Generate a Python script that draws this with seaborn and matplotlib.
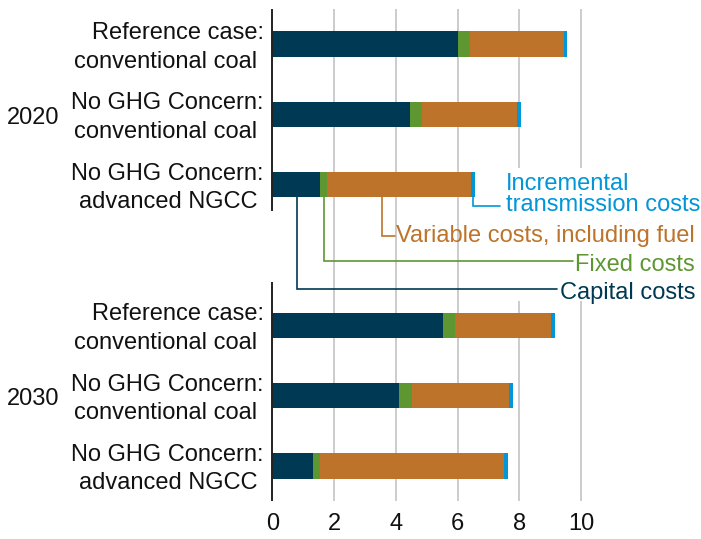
import numpy as np
import pandas as pd
import matplotlib
matplotlib.use("Agg")
import matplotlib.pyplot as plt
import seaborn as sns
from matplotlib.transforms import blended_transform_factory, ScaledTranslation
from matplotlib.patches import Rectangle

# data (levelized cost components)
years = ['2020', '2030']
cases = ['Reference case:\nconventional coal ',
         'No GHG Concern:\nconventional coal ',
         'No GHG Concern:\nadvanced NGCC ']
capital = [6.00, 4.45, 1.54, 5.52, 4.10, 1.31]
fixed = [0.39, 0.39, 0.24, 0.39, 0.42, 0.22]
variable = [3.05, 3.09, 4.65, 3.11, 3.14, 5.97]
transmission = [0.10, 0.12, 0.13, 0.13, 0.13, 0.13]
x_ticks = [0, 2, 4, 6, 8, 10]

c_cap = '#003953'
c_fix = '#5E9732'
c_var = '#BD732A'
c_tra = '#0096D7'

df = pd.DataFrame({'year': np.repeat(years, 3), 'case': cases * 2,
                   'capital': capital, 'fixed': fixed,
                   'variable': variable, 'transmission': transmission})
idx = np.arange(len(df))
df['pos'] = idx + (idx >= 3)  # leave an empty slot between the two years
df['cum_fix'] = df['capital'] + df['fixed']
df['cum_var'] = df['cum_fix'] + df['variable']
df['total'] = df['cum_var'] + df['transmission']

sns.set_style('white')
plt.rcParams['font.family'] = ['Liberation Sans', 'DejaVu Sans']
fs = 17

fig = plt.figure(figsize=(7.01, 5.39), dpi=100)
ax = fig.add_axes([272.3 / 701, 38 / 539, 422.7 / 701, 492 / 539])

# stacked bars by over-plotting cumulative totals
for col, color in [('total', c_tra), ('cum_var', c_var),
                   ('cum_fix', c_fix), ('capital', c_cap)]:
    sns.barplot(data=df, x=col, y='pos', orient='h', native_scale=True,
                color=color, saturation=1, width=0.36, errorbar=None,
                linewidth=0, zorder=2, ax=ax)

ax.set_xlim(0, 13.68)
ax.set_ylim(6.5, -0.5)
ax.set_xlabel('')
ax.set_ylabel('')
for s in ax.spines.values():
    s.set_visible(False)

# grid
ax.set_xticks(x_ticks)
ax.xaxis.grid(True, color='#BFBFBF', lw=1.1, zorder=0)
ax.set_axisbelow(True)
ax.get_xgridlines()[0].set_visible(False)
ax.tick_params(axis='x', length=0, pad=9, labelsize=fs, labelcolor='#111111')

# category labels
ax.set_yticks(df['pos'], labels=df['case'])
ax.tick_params(axis='y', which='major', length=0, pad=6, labelsize=fs,
               labelcolor='#111111')
nudge = ScaledTranslation(0, 2.5 / 100, fig.dpi_scale_trans)
for t in ax.get_yticklabels():
    t.set_linespacing(1.38)
    t.set_transform(t.get_transform() + nudge)

# bracket axis per year
brackets = [[-0.5, 0.38, 1.38, 2.38], [3.38, 4.5, 5.5, 6.5]]
ax.set_yticks([b for g in brackets for b in g], minor=True)
ax.tick_params(axis='y', which='minor', length=5, width=1.2, color='#222222')
for g in brackets:
    ax.plot([0, 0], [g[0], g[-1]], color='#222222', lw=1.4,
            clip_on=False, zorder=5, solid_capstyle='butt')

# year labels
tr = blended_transform_factory(fig.transFigure, ax.transData)
for i, yr in enumerate(years):
    ax.text(7 / 701, df['pos'].iloc[3 * i + 1] + 0.05, yr, transform=tr,
            ha='left', va='center', fontsize=fs, color='#111111')

# white area behind the annotation labels
ax.add_patch(Rectangle((6.41, 1.76), 7.3, 1.89, facecolor='white',
                       edgecolor='none', zorder=1))

# leader lines from the last NGCC 2020 bar
b = df.iloc[2]
y0 = b['pos'] + 0.18
leaders = [
    (c_tra, (b['cum_var'] + b['total']) / 2, 2.30, 7.37),
    (c_var, 3.54, 2.727, 3.97),
    (c_fix, (b['capital'] + b['cum_fix']) / 2, 3.08, 9.73),
    (c_cap, 0.80, 3.48, 9.21),
]
for color, x, y, xend in leaders:
    ax.plot([x, x, xend], [y0, y, y], color=color, lw=1.2, zorder=3,
            clip_on=False, solid_joinstyle='miter')

ax.text(7.56, 2.14, 'Incremental\ntransmission costs', color=c_tra,
        fontsize=fs, ha='left', va='center', linespacing=0.9, zorder=4)
ax.text(13.68, 2.822, 'Variable costs, including fuel', color=c_var,
        fontsize=fs, ha='right', va='baseline', zorder=4)
ax.text(13.68, 3.225, 'Fixed costs', color=c_fix,
        fontsize=fs, ha='right', va='baseline', zorder=4)
ax.text(13.68, 3.627, 'Capital costs', color=c_cap,
        fontsize=fs, ha='right', va='baseline', zorder=4)

fig.savefig('out.png', dpi=100)
